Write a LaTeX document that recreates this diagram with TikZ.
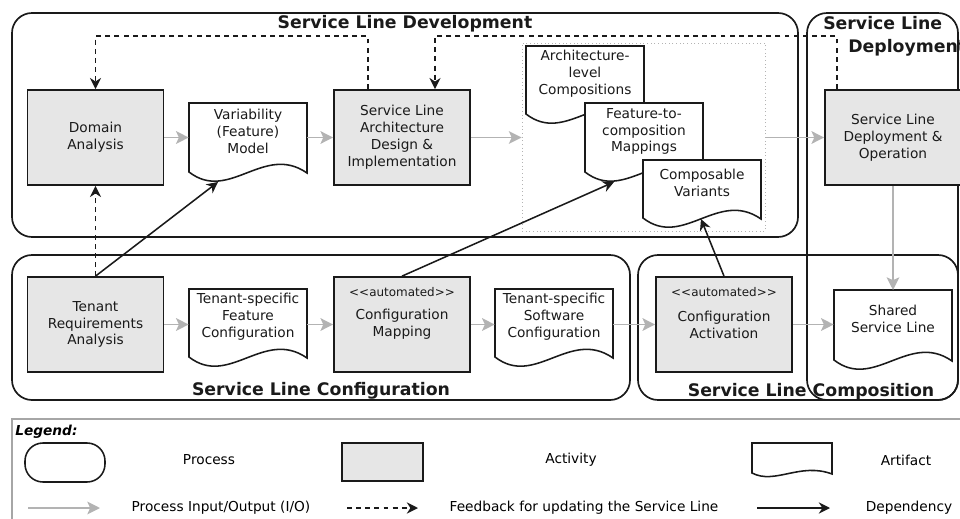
\documentclass[tikz,border=0pt]{standalone}
\usepackage{fontspec}
\setmainfont{DejaVu Sans}
\usetikzlibrary{arrows.meta, positioning}

\definecolor{ink}{HTML}{1A1A1A}
\definecolor{iogray}{HTML}{B3B3B3}
\definecolor{actfill}{HTML}{E6E6E6}

% artifact: name, left x, top y, height, text
\newcommand{\artifact}[5]{%
  \draw[doc] (#2,#3) -- (#2+118,#3) -- (#2+118,#3+#4+1)
    .. controls (#2+75,#3+#4-29) and (#2+40,#3+#4+31) .. (#2,#3+#4) -- cycle;
  \node[artifact] (#1) at (#2+59,#3+#4/2-6) {#5};
  \coordinate (#1-top) at (#2+59,#3);
  \coordinate (#1-w) at (#2+29,#3+#4+10);
  \coordinate (#1-m) at (#2+58,#3+#4+1);
}

\begin{document}
\begin{tikzpicture}[
    x=0.025cm, y=-0.025cm,
    font=\fontsize{9.75}{12}\selectfont,
    process/.style={draw=ink, line width=1.2pt, rounded corners=0.5cm},
    title/.style={font=\fontsize{12.3}{16.4}\selectfont\bfseries, text=ink, inner sep=0pt},
    activity/.style={rectangle, draw=ink, line width=1.2pt, fill=actfill,
    minimum width=3.4cm, minimum height=2.375cm, align=center, text=ink},
    artifact/.style={rectangle, inner xsep=0pt, text width=2.95cm, align=center, text=ink},
    doc/.style={draw=ink, line width=1.1pt, fill=white},
    stereo/.style={font=\fontsize{8.5}{10}\selectfont, text=ink},
    io/.style={-{Stealth[length=9pt, width=9pt, inset=2pt]}, draw=iogray, line width=1.3pt},
    feedback/.style={-{Stealth[length=8pt, width=8pt]}, draw=ink, line width=1.1pt,
    dash pattern=on 3.5pt off 3pt},
    dep/.style={-{Stealth[length=8pt, width=8pt]}, draw=ink, line width=1.1pt}
]
\clip (0,0) rectangle (960,519);

% ---------------- PROCESSES ----------------
\draw[process] (12,13) rectangle (798,237);
\draw[process] (807,13) rectangle (958,400);
\draw[process] (12,255) rectangle (630,400);
\draw[process] (638,255) rectangle (958,400);

\node[title, anchor=base] (tdev) at (405,29) {Service Line Development};
\node[title, anchor=north west, align=left] (tdep) at (823,16)
{Service Line\\\hspace*{0.625cm}Deployment};
\node[title, anchor=base] (tconf) at (321,395) {Service Line Configuration};
\node[title, anchor=base] (tcomp) at (811,396) {Service Line Composition};

% ---------------- ACTIVITIES ----------------
\node[activity] (da) at (95.5,137.5) {Domain\\Analysis};
\node[activity] (sla) at (402,137.5)
{Service Line\\Architecture\\Design \&\\Implementation};
\node[activity] (dep) at (893,137.5) {Service Line\\Deployment \&\\Operation};
\node[activity] (tra) at (95.5,324.5) {Tenant\\Requirements\\Analysis};
\node[activity] (cm) at (402,324.5) {Configuration\\Mapping};
\node[activity] (ca) at (724,324.5) {Configuration\\Activation};
\node[stereo] (cm-st) at ([yshift=-0.4cm]cm.north) {<\kern0pt<automated>\kern0pt>};
\node[stereo] (ca-st) at ([yshift=-0.4cm]ca.north) {<\kern0pt<automated>\kern0pt>};

% ---------------- ARTIFACTS ----------------
\node[draw=iogray, dotted, line width=0.6pt, minimum width=6.075cm,
minimum height=4.7cm] (grp) at (643.5,137) {};

\artifact{vm}{189}{103}{69}{Variability\\(Feature)\\Model}
\artifact{alc}{526}{46}{68}{Architecture-\\level\\Compositions}
\artifact{fcm}{585}{103}{69}{Feature-to-\\composition\\Mappings}
\artifact{cv}{643}{160}{58}{Composable\\Variants}
\artifact{fc}{189}{289}{68}{Tenant-specific\\Feature\\Configuration}
\artifact{sc}{495}{289}{68}{Tenant-specific\\Software\\Configuration}
\artifact{ssl}{834}{290}{70}{Shared\\Service Line}

% ---------------- I/O ----------------
\draw[io] (da.east) -- (da.east -| vm.west);
\draw[io] (vm.east |- sla.west) -- (sla.west);
\draw[io] (sla.east) -- (sla.east -| grp.west);
\draw[io] (grp.east |- dep.west) -- (dep.west);
\draw[io] (dep.south) -- (ssl-top);
\draw[io] (tra.east) -- (tra.east -| fc.west);
\draw[io] (fc.east |- cm.west) -- (cm.west);
\draw[io] (cm.east) -- (cm.east -| sc.west);
\draw[io] (sc.east |- ca.west) -- (ca.west);
\draw[io] (ca.east) -- (ca.east -| ssl.west);

% ---------------- FEEDBACK ----------------
\draw[feedback] ([xshift=-0.85cm]sla.north) -- ++(0,-53) -| (da.north);
\draw[feedback] ([xshift=-1.4cm]dep.north) -- ++(0,-53) -| ([xshift=0.825cm]sla.north);
\draw[feedback] (tra.north) -- (da.south);

% ---------------- DEPENDENCIES ----------------
\draw[dep] (tra.north) -- (vm-w);
\draw[dep] (cm.north) -- (fcm-w);
\draw[dep] (ca.north) -- (cv-m);

% ---------------- LEGEND ----------------
\draw[draw=black!35, line width=1.2pt] (12,419) rectangle (975,530);
\node[anchor=west, inner sep=0pt, font=\fontsize{9.75}{12}\selectfont\bfseries\itshape]
(leg) at (15,432) {Legend:};

\node[draw=ink, line width=1.1pt, rounded corners=0.45cm, minimum width=2cm,
minimum height=0.975cm] (lproc) at (65,462.5) {};
\node (lproct) at (209,460) {Process};
\node[activity, minimum width=2.025cm, minimum height=0.95cm] (lact) at (382.5,462) {};
\node (lactt) at (571,460) {Activity};
\draw[doc] (752,443) -- (832,443) -- (832,474)
  .. controls (800,462) and (775,485) .. (752,473) -- cycle;
\node (lartt) at (906,460) {Artifact};

\coordinate (lio1) at (28,508);
\coordinate (lio2) at (100,508);
\draw[io] (lio1) -- (lio2);
\node (liot) at (221,508) {Process Input/Output (I/O)};
\coordinate (lfb1) at (347,508);
\coordinate (lfb2) at (418,508);
\draw[feedback] (lfb1) -- (lfb2);
\node (lfbt) at (584,508) {Feedback for updating the Service Line};
\coordinate (ldp1) at (757,508);
\coordinate (ldp2) at (830,508);
\draw[dep] (ldp1) -- (ldp2);
\node (ldpt) at (909,508) {Dependency};

\end{tikzpicture}
\end{document}
